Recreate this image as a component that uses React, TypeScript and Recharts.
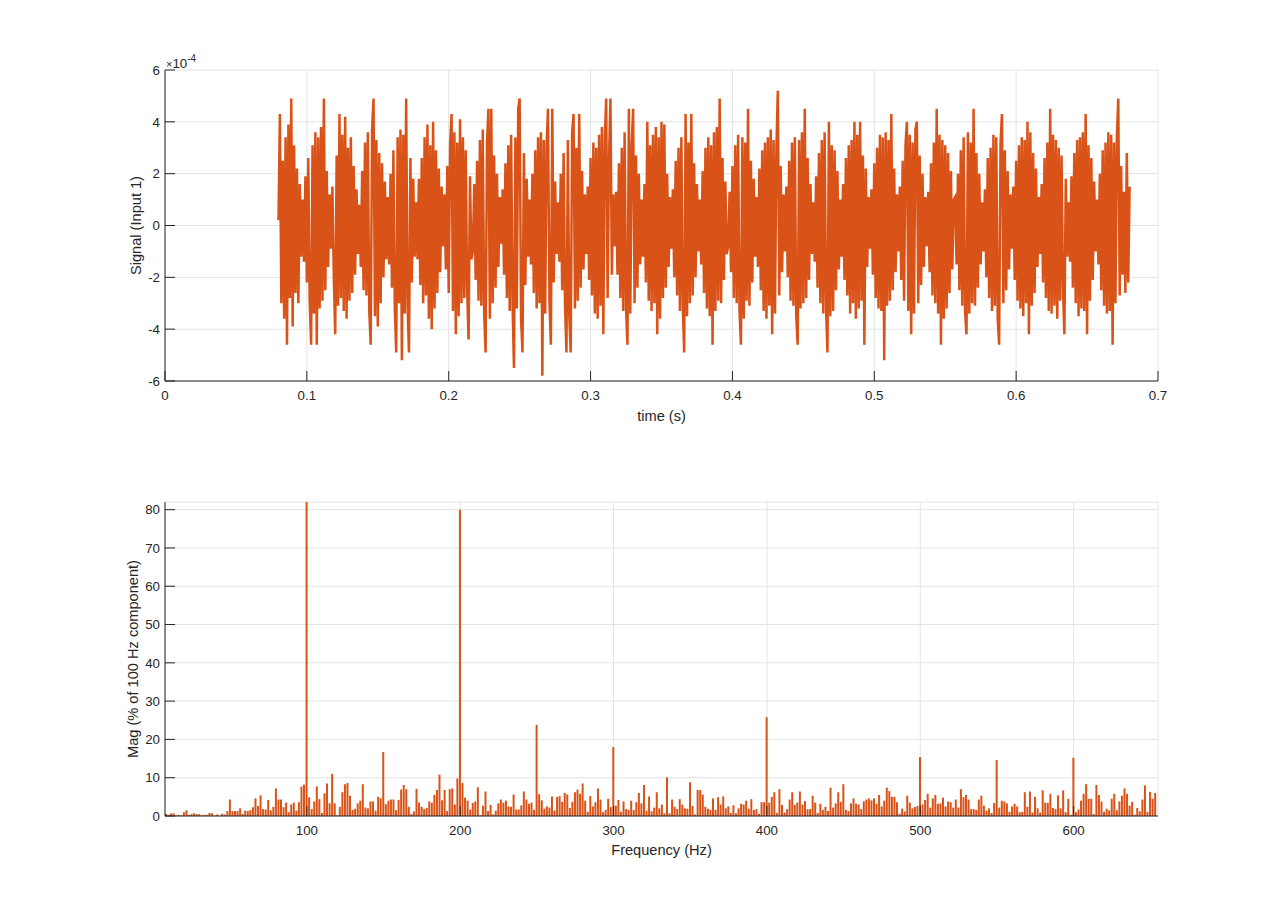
import { LineChart, Line, BarChart, Bar, XAxis, YAxis, CartesianGrid } from 'recharts'

const ORANGE = '#D95319'
const AXIS = '#262626'
const GRID = '#e3e3e3'
const FONT = '"Liberation Sans", Arial, Helvetica, sans-serif'

// time signal, units of 1e-4, one sample per ms starting at 0.08 s
const tStart = 0.08
const dt = 0.001
const signal = [
  0.2, 4.3, -3.0, 2.5, -3.6, 3.4, -4.6, 3.9, -2.8, 4.9, -3.9, 3.1, -2.6, 2.2, -3.0, 1.6, -1.2,
  1.0, -1.4, 1.9, -2.2, 2.6, -2.9, -4.6, 3.1, -3.4, 3.6, -4.6, 3.4, -3.2, 3.8, -2.9, 4.9, -2.5, 2.1, -1.6, 1.2,
  -0.9, 1.5, -2.0, -4.2, 2.7, -3.1, 4.3, -2.8, 3.5, -3.3, 4.2, -3.6, 3.0, -2.9, 3.4, -2.6, 2.3, -1.9, 1.4, -1.1,
  0.8, -1.6, 2.1, -2.5, 3.2, -2.7, 3.6, -3.3, -4.6, 3.7, 4.9, -3.5, 3.3, -3.9, 2.8, -3.0, 2.4, -2.0, 1.7, -1.3,
  1.1, -1.5, 2.0, -2.4, 2.9, -3.2, -4.9, 3.4, -3.0, 3.7, -5.2, 3.5, -3.4, 4.9, -3.1, -4.9, 2.6, -2.2, 1.8, -1.2,
  0.9, -1.3, 1.8, -2.3, 2.6, -3.0, 3.4, -2.7, 3.9, -3.6, 3.1, -4.0, 4.0, -3.2, 2.9, -2.6, 2.2, -1.8, 1.5, -0.8,
  1.2, -1.7, 2.3, -2.6, 3.1, 4.3, -3.3, 3.6, -4.2, 3.2, -3.5, 4.1, -3.0, 3.4, -2.8, 2.9, -2.5, -4.4, 1.9, -1.3,
  -1.0, 1.6, -2.1, 2.5, -2.9, 3.3, -3.1, 3.7, -3.4, -4.9, 3.2, 4.5, -3.6, 4.5, -3.0, 2.7, -2.4, 2.0, -1.6, 1.1,
  -0.7, 1.4, -1.9, 2.4, -2.8, 3.1, -3.3, 3.5, -3.0, -5.5, 3.4, -3.2, 4.5, 4.9, -3.6, -4.9, 2.8, -2.3, 1.8, -1.2,
  1.0, -1.5, 2.0, -2.6, 2.9, -3.2, 3.4, -3.0, 3.6, -5.8, 3.3, -3.4, 3.1, 4.5, -2.9, -4.6, 4.5, -2.2, 1.7, -1.1,
  0.9, -1.4, 2.0, -2.5, 2.8, -3.1, -4.9, 3.3, -3.5, -4.9, 3.6, 4.3, -3.2, 3.0, -2.9, 4.3, -2.4, 2.1, -1.7, 1.2,
  -1.1, 1.5, -2.1, 2.6, -2.7, 3.2, -3.4, 3.0, -3.6, 3.5, -3.1, 3.8, -4.2, 3.3, 4.9, -2.8, 2.5, 4.9, -1.9, 1.2,
  -0.8, 1.3, -1.9, 2.4, -2.8, 3.0, -3.3, 3.6, -3.2, -4.6, 4.5, -3.4, 3.1, 4.5, -3.0, 2.7, -2.4, 2.0, -1.5, 1.0,
  -1.2, 1.6, -2.2, 4.0, -2.9, 3.1, -3.3, 3.5, -3.0, 3.8, -4.2, 3.4, -3.6, 4.0, -2.8, 3.9, -2.4, 2.0, -1.6, 1.1,
  -0.9, 1.4, -2.0, 2.5, -2.7, 3.0, -3.3, 3.4, -3.1, -4.9, 4.3, -3.5, 3.2, -3.0, 4.3, -2.7, 2.4, -2.0, 1.6, -1.0,
  1.0, -1.5, 2.1, -2.6, 3.0, -3.2, 3.4, -3.5, 3.1, -4.6, 3.6, -3.3, 3.8, -2.9, 4.9, -3.0, 2.6, -2.1, 1.7, -1.1,
  -0.8, 1.3, -1.8, 2.3, -2.8, 3.1, -3.0, 3.5, -3.3, -4.6, 3.4, -3.6, 3.2, -2.9, 4.5, -3.1, 2.5, -2.2, 1.8, -1.2,
  1.1, -1.6, 2.2, -2.5, 2.9, -3.3, 3.2, -3.6, 3.4, -3.1, 3.7, -4.2, 3.3, -3.4, 3.0, 5.2, -2.7, 2.3, -1.8, 1.2,
  -1.0, 1.5, -2.0, 2.5, -2.9, 3.2, -3.1, 3.4, -3.5, -4.6, 3.3, -3.2, 3.6, -3.0, 4.5, -2.8, 2.6, -2.1, 1.6, -1.1,
  0.9, -1.4, 1.9, -2.4, 2.8, -3.0, 3.3, -3.4, 3.6, -3.2, -4.9, 4.0, -3.5, 3.1, -3.3, 2.9, -2.5, 2.1, -1.7, 1.0,
  -1.2, 1.6, -2.1, 2.6, -2.7, 3.1, -3.4, 3.3, -3.0, 4.0, -3.6, 3.5, -3.2, 4.0, -2.9, 2.7, -4.6, 2.2, -1.6, 1.1,
  -0.9, 1.4, -1.9, 2.4, -2.8, 3.0, -3.2, 3.5, -3.3, 3.4, -5.2, 3.6, -3.1, 3.3, -2.9, 4.3, -2.5, 2.2, -1.8, 1.2,
  -1.0, 1.5, -2.1, 2.5, -2.9, 3.1, 4.0, -3.3, 3.5, -4.2, 3.2, -3.4, 3.7, 4.0, -3.0, 2.7, -2.3, 2.0, -1.6, 1.1,
  -0.8, 1.3, -1.8, 2.4, -2.7, 3.2, -3.0, 4.5, -3.4, 3.5, -4.6, 3.3, -3.6, 3.1, -3.2, 2.8, -2.6, 2.1, -1.7, 1.0,
  1.1, -1.5, 2.0, -2.5, 2.9, -3.1, 3.4, -3.3, -4.2, 3.6, -3.4, 3.2, -3.0, 4.5, -3.1, 2.8, -2.4, 2.0, -1.5, 0.9,
  -1.0, 1.4, -2.0, 2.6, -2.8, 3.0, -3.3, 3.5, -3.1, 3.4, -3.6, -4.6, 3.2, 4.3, -3.0, 2.9, -2.5, 2.1, -1.7, 1.2,
  -0.9, 1.5, -2.1, 2.5, -2.9, 3.1, -3.2, 3.4, -3.5, 3.3, -3.0, 4.0, -4.2, 3.6, -3.1, 2.8, -2.6, 2.2, -1.6, 1.1,
  -1.1, 1.6, -2.2, 2.6, -2.8, 3.2, -3.3, 4.5, -3.4, 3.5, -3.1, 3.3, -3.6, 3.0, -2.9, 2.7, -2.4, -4.2, 1.8, -1.2,
  0.9, -1.4, 1.9, -2.4, 2.8, -3.0, 3.3, -3.5, 3.4, -3.2, 3.6, -3.3, 4.3, -4.2, 3.1, -2.9, 2.6, -2.1, 1.7, -1.0,
  1.0, -1.5, 2.0, -2.5, 2.9, -3.1, 3.2, -3.4, 3.6, -3.3, 3.5, -4.6, 3.2, -3.0, 3.4, 4.9, -2.7, 2.3, -1.9, 1.3,
  -2.6, 2.8, -2.2, 1.5,
]
const timeTicks = [0, 0.1, 0.2, 0.3, 0.4, 0.5, 0.6, 0.7]
const signalTicks = [-6, -4, -2, 0, 2, 4, 6]

// spectrum, % of the 100 Hz component, bins of 1/0.6 Hz from bin 5
const binStep = 1 / 0.6
const firstBin = 5
const mag = [
  0.5, 0.3, 0.7, 0.7, 0.2, 0.3, 0.1, 1.0, 1.5, 0.3,
  0.5, 0.7, 0.5, 0.5, 0.2, 0.3, 0.3, 0.8, 0.7, 0.1,
  0.4, 0.1, 0.6, 0.4, 1.3, 4.3, 1.3, 1.3, 1.3, 2.0,
  0.5, 1.4, 1.3, 1.5, 2.3, 4.6, 2.6, 5.4, 1.8, 1.7,
  4.2, 1.5, 2.4, 7.2, 4.3, 4.3, 2.3, 3.5, 1.0, 3.0,
  3.5, 1.4, 3.6, 7.7, 8.2, 100, 4.9, 1.8, 3.8, 7.7,
  4.4, 0.8, 5.9, 8.5, 3.3, 11.0, 3.3, 0.2, 2.4, 6.2,
  8.3, 8.6, 5.3, 1.6, 1.9, 3.3, 4.0, 8.3, 2.2, 2.0,
  3.8, 3.8, 1.4, 5.0, 4.6, 16.7, 3.1, 4.0, 4.3, 4.3,
  1.5, 4.2, 6.9, 8.1, 7.0, 2.4, 0.5, 1.2, 7.1, 3.5,
  2.4, 1.8, 2.1, 3.8, 3.5, 5.5, 6.8, 10.8, 4.1, 6.8,
  1.3, 7.0, 7.2, 3.0, 9.8, 80, 8.6, 4.8, 4.0, 1.7,
  3.4, 3.8, 7.5, 0.2, 2.7, 6.4, 1.3, 2.9, 0.4, 1.4,
  3.3, 4.3, 3.5, 4.0, 2.5, 2.4, 5.6, 1.7, 1.7, 2.8,
  6.4, 4.3, 3.2, 3.5, 1.6, 23.8, 5.7, 4.1, 1.9, 2.5,
  2.2, 5.1, 1.4, 5.0, 5.2, 3.7, 6.0, 5.6, 2.1, 3.7,
  6.2, 6.9, 5.8, 8.5, 4.0, 1.1, 5.2, 2.5, 3.6, 7.2,
  4.3, 1.0, 1.6, 4.5, 2.3, 18.0, 2.7, 4.2, 1.1, 3.8,
  1.8, 1.6, 4.0, 1.6, 3.6, 6.0, 3.3, 8.1, 1.4, 5.1,
  1.2, 2.2, 6.2, 2.0, 3.0, 0.7, 10.1, 0.7, 4.3, 2.4,
  1.8, 4.4, 3.0, 2.0, 1.9, 8.8, 2.6, 0.4, 6.8, 6.8,
  5.6, 2.4, 1.9, 1.6, 4.6, 1.6, 4.9, 3.0, 5.1, 2.0,
  2.5, 0.8, 2.8, 0.7, 2.0, 3.2, 3.0, 4.0, 1.9, 4.4,
  1.6, 1.8, 0.6, 3.6, 3.6, 25.8, 3.5, 5.0, 6.2, 0.8,
  7.0, 2.9, 0.9, 1.8, 4.3, 6.2, 2.9, 3.5, 6.4, 3.0,
  3.9, 1.8, 1.8, 5.3, 3.5, 0.8, 3.2, 1.6, 2.4, 1.3,
  7.4, 2.2, 3.3, 6.2, 3.7, 8.3, 1.6, 1.3, 3.3, 4.6,
  3.2, 3.0, 1.8, 3.8, 4.3, 4.6, 4.1, 4.6, 3.2, 5.5,
  2.5, 4.0, 7.4, 6.5, 5.0, 5.0, 3.6, 0.6, 1.9, 1.2,
  5.3, 3.5, 2.0, 2.4, 2.6, 15.4, 3.0, 4.2, 5.8, 2.2,
  4.6, 5.5, 3.2, 3.3, 4.8, 2.5, 3.8, 3.6, 2.2, 4.3,
  2.2, 7.0, 4.9, 5.5, 4.3, 1.8, 1.8, 1.6, 4.3, 5.3,
  2.7, 1.4, 2.0, 0.8, 3.4, 14.6, 2.2, 4.0, 3.8, 3.3,
  1.1, 2.5, 3.2, 2.5, 1.0, 1.1, 6.2, 2.4, 6.4, 0.9,
  5.0, 2.0, 0.9, 6.7, 3.5, 3.4, 5.8, 2.1, 1.8, 5.4,
  2.0, 6.7, 1.0, 4.5, 0.3, 15.2, 1.0, 1.7, 4.0, 5.8,
  8.3, 4.5, 4.5, 0.5, 8.1, 5.5, 3.8, 1.1, 1.9, 1.5,
  4.5, 5.8, 1.5, 3.8, 5.3, 7.2, 5.8, 2.7, 3.7, 0.3,
  2.1, 1.2, 4.3, 8.0, 1.1, 6.3, 4.5, 6.0,
]
const freqTicks = [100, 200, 300, 400, 500, 600]
const magTicks = [0, 10, 20, 30, 40, 50, 60, 70, 80]

const signalData = signal.map((v, i) => ({ t: tStart + i * dt, v }))
const magData = mag.map((m, i) => ({ f: (firstBin + i) * binStep, m }))

const tickStyle = { fill: AXIS, fontSize: 13.3, fontFamily: FONT }
const labelStyle = { fill: AXIS, fontSize: 14.6, fontFamily: FONT }
const lineStyle = { stroke: AXIS, strokeWidth: 1 }

export default function App() {
  return (
    <div style={{ position: 'absolute', left: 0, top: 0, width: 1280, height: 917, background: '#fff' }}>
      <div style={{ position: 'absolute', left: 0, top: 0 }}>
        <LineChart width={1280} height={440} data={signalData}
          margin={{ top: 70, right: 122, bottom: 0, left: 115 }}>
          <CartesianGrid stroke={GRID} />
          <XAxis dataKey="t" type="number" domain={[0, 0.7]} ticks={timeTicks} height={59}
            tickSize={-10} tickMargin={20} axisLine={lineStyle} tickLine={lineStyle} tick={tickStyle}
            tickFormatter={(v: number) => String(v)}
            label={{ value: 'time (s)', position: 'insideBottom', offset: 19, style: labelStyle }} />
          <XAxis xAxisId="top" orientation="top" type="number" domain={[0, 0.7]} ticks={timeTicks}
            height={0} tickSize={-10} tick={false} axisLine={lineStyle} tickLine={lineStyle} />
          <YAxis type="number" domain={[-6, 6]} ticks={signalTicks} width={50}
            tickSize={-10} tickMargin={15} axisLine={lineStyle} tickLine={lineStyle} tick={tickStyle}
            label={{ value: 'Signal (Input 1)', angle: -90, position: 'insideLeft', offset: 21,
              style: { ...labelStyle, textAnchor: 'middle' } }} />
          <YAxis yAxisId="right" orientation="right" type="number" domain={[-6, 6]} ticks={signalTicks}
            width={0} tickSize={-10} tick={false} axisLine={lineStyle} tickLine={lineStyle} />
          <Line dataKey="v" type="linear" stroke={ORANGE} strokeWidth={2.5} dot={false} isAnimationActive={false} />
        </LineChart>
      </div>
      <div style={{ position: 'absolute', left: 166, top: 54, color: AXIS, fontFamily: FONT, fontSize: 13.3, lineHeight: 1, whiteSpace: 'nowrap' }}>
        <span style={{ fontSize: 11 }}>×</span>10<sup style={{ fontSize: 10, verticalAlign: 6 }}>-4</sup>
      </div>
      <div style={{ position: 'absolute', left: 0, top: 440 }}>
        <BarChart width={1280} height={440} data={magData}
          margin={{ top: 62, right: 122, bottom: 0, left: 115 }}>
          <CartesianGrid stroke={GRID} />
          <XAxis dataKey="f" type="number" domain={[7.5, 655]} allowDataOverflow ticks={freqTicks} height={64}
            tickSize={-10} tickMargin={20} axisLine={lineStyle} tickLine={lineStyle} tick={tickStyle}
            label={{ value: 'Frequency (Hz)', position: 'insideBottom', offset: 25, style: labelStyle }} />
          <XAxis xAxisId="top" orientation="top" type="number" domain={[7.5, 655]} ticks={freqTicks}
            height={0} tickSize={-10} tick={false} axisLine={lineStyle} tickLine={lineStyle} />
          <YAxis type="number" domain={[0, 82]} allowDataOverflow ticks={magTicks} width={50}
            tickSize={-10} tickMargin={15} axisLine={lineStyle} tickLine={lineStyle} tick={tickStyle}
            label={{ value: 'Mag (% of 100 Hz component)', angle: -90, position: 'insideLeft', offset: 18,
              style: { ...labelStyle, textAnchor: 'middle' } }} />
          <YAxis yAxisId="right" orientation="right" type="number" domain={[0, 82]} ticks={magTicks}
            width={0} tickSize={-10} tick={false} axisLine={lineStyle} tickLine={lineStyle} />
          <Bar dataKey="m" fill={ORANGE} barSize={2} isAnimationActive={false} />
        </BarChart>
      </div>
    </div>
  )
}
